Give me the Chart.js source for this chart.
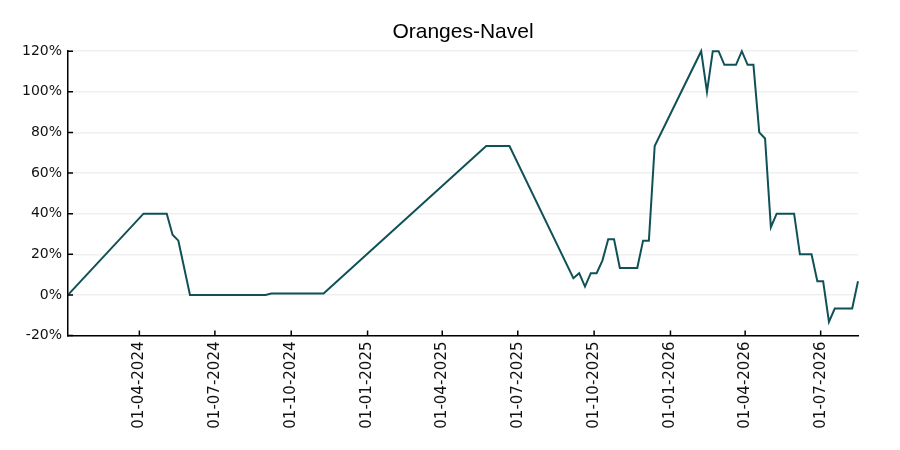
<!DOCTYPE html>
<html>
<head>
<meta charset="utf-8">
<script src="https://cdn.jsdelivr.net/npm/chart.js@4.4.1/dist/chart.umd.min.js"></script>
<style>
  html, body { margin: 0; padding: 0; background: #fff; }
  #wrap { width: 900px; height: 450px; }
</style>
</head>
<body>
<div id="wrap"><canvas id="chart" width="900" height="450"></canvas></div>
<script>
// weekly observations (only where the series changes direction)
const dates = [
  '2024-01-06', '2024-04-06', '2024-05-04', '2024-05-11', '2024-05-18', '2024-06-01',
  '2024-08-31', '2024-09-07', '2024-11-09', '2025-05-24', '2025-06-21', '2025-09-06',
  '2025-09-13', '2025-09-20', '2025-09-27', '2025-10-04', '2025-10-11', '2025-10-18',
  '2025-10-25', '2025-11-01', '2025-11-22', '2025-11-29', '2025-12-06', '2025-12-13',
  '2026-02-07', '2026-02-14', '2026-02-21', '2026-02-28', '2026-03-07', '2026-03-21',
  '2026-03-28', '2026-04-04', '2026-04-11', '2026-04-18', '2026-04-25', '2026-05-02',
  '2026-05-09', '2026-05-30', '2026-06-06', '2026-06-20', '2026-06-27', '2026-07-04',
  '2026-07-11', '2026-07-18', '2026-08-08', '2026-08-15'
]
const changePct = [
  0, 40, 40, 29.6, 26.7, 0,
  0, 0.7, 0.7, 73.3, 73.3, 8.2,
  10.7, 4.1, 10.7, 10.7, 16.9, 27.4,
  27.4, 13.3, 13.3, 26.7, 26.7, 73.3,
  120, 100, 120, 120, 113.3, 113.3,
  120, 113.3, 113.3, 80, 77, 33.3,
  40, 40, 20, 20, 6.7, 6.7,
  -13.3, -6.7, -6.7, 6.7
]
const xTickDates = [
  '2024-04-01', '2024-07-01', '2024-10-01', '2025-01-01', '2025-04-01',
  '2025-07-01', '2025-10-01', '2026-01-01', '2026-04-01', '2026-07-01'
]
const yTicks = [-20, 0, 20, 40, 60, 80, 100, 120]

const toMs = s => { const [y, m, d] = s.split('-').map(Number); return Date.UTC(y, m - 1, d) }
const fmt = ms => {
  const d = new Date(ms)
  const p = n => String(n).padStart(2, '0')
  return p(d.getUTCDate()) + '-' + p(d.getUTCMonth() + 1) + '-' + d.getUTCFullYear()
}

const points = dates.map((d, i) => ({ x: toMs(d), y: changePct[i] }))

// small tick marks pointing into the plot
const innerTicks = {
  id: 'innerTicks',
  afterDraw(chart) {
    const { ctx, chartArea, scales } = chart
    ctx.save()
    ctx.strokeStyle = '#000'
    ctx.lineWidth = 1.5
    ctx.beginPath()
    scales.y.ticks.forEach(t => {
      const y = scales.y.getPixelForValue(t.value)
      ctx.moveTo(chartArea.left, y)
      ctx.lineTo(chartArea.left + 5, y)
    })
    scales.x.ticks.forEach(t => {
      const x = scales.x.getPixelForValue(t.value)
      ctx.moveTo(x, chartArea.bottom)
      ctx.lineTo(x, chartArea.bottom - 5)
    })
    ctx.stroke()
    ctx.restore()
  }
}

new Chart(document.getElementById('chart'), {
  type: 'line',
  data: {
    datasets: [{
      data: points,
      borderColor: '#0f5157',
      borderWidth: 2,
      pointRadius: 0,
      tension: 0,
      clip: 4
    }]
  },
  options: {
    responsive: false,
    animation: false,
    layout: { padding: { left: 0, right: 42, top: 0, bottom: 0 } },
    plugins: {
      legend: { display: false },
      tooltip: { enabled: false },
      title: {
        display: true,
        fullSize: false,
        text: 'Oranges-Navel',
        color: '#000',
        font: { family: 'Liberation Sans', size: 21, weight: 'normal' },
        padding: { top: 20, bottom: 6 }
      }
    },
    scales: {
      x: {
        type: 'linear',
        min: toMs(dates[0]),
        max: toMs(dates[dates.length - 1]),
        afterBuildTicks: s => { s.ticks = xTickDates.map(d => ({ value: toMs(d) })) },
        afterFit: s => { s.height = 114.5 },
        grid: { display: true, drawOnChartArea: false, drawTicks: false },
        border: { color: '#000', width: 1.5 },
        ticks: {
          color: '#111',
          font: { family: 'DejaVu Sans', size: 15 },
          padding: 6,
          minRotation: 90,
          maxRotation: 90,
          autoSkip: false,
          callback: v => fmt(v)
        }
      },
      y: {
        min: -20,
        max: 120,
        afterBuildTicks: s => { s.ticks = yTicks.map(v => ({ value: v })) },
        afterFit: s => { s.width = 68 },
        grid: { color: '#efefef', lineWidth: 1.5, drawTicks: false },
        border: { color: '#000', width: 1.5 },
        ticks: {
          color: '#111',
          font: { family: 'DejaVu Sans', size: 14 },
          padding: 6,
          callback: v => v + '%'
        }
      }
    }
  },
  plugins: [innerTicks]
})
</script>
</body>
</html>
